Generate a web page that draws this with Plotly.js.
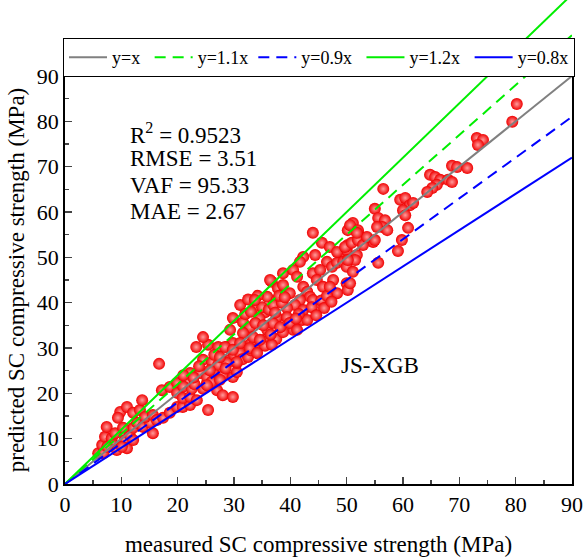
<!DOCTYPE html>
<html>
<head>
<meta charset="utf-8">
<script src="https://cdn.plot.ly/plotly-3.0.1.min.js"></script>
<style>html,body{margin:0;padding:0;background:#fff;}#chart{width:584px;height:559px;}</style>
</head>
<body>
<div id="chart"></div>
<script>
// measured vs predicted SC compressive strength (MPa)
const measured = [
 5.9,6.6,6.8,7.1,7.4,8.3,8.6,9.2,10.6,11.5,12.1,13.3,15.6,11.0,7.5,8.9,10.3,12.8,13.8,15.1,12.1,10.1,
 9.8,9.4,11.0,12.1,13.3,14.2,15.6,16.3,17.4,18.6,19.9,20.9,22.2,13.7,16.7,17.2,18.6,19.9,21.7,22.2,
 19.9,20.9,22.2,23.4,25.2,27.0,28.0,29.8,25.4,24.0,25.2,26.3,28.0,29.8,30.5,24.5,26.1,27.2,29.3,30.5,
 23.3,25.4,27.2,28.8,29.8,24.5,25.7,28.8,
 21.0,22.5,23.0,24.5,26.0,27.5,28.5,30.0,31.0,31.5,32.5,33.0,26.5,27.5,22.8,23.8,21.0,34.0,35.5,33.0,37.5,36.0,38.5,
 44.0,45.6,47.0,48.8,50.0,50.2,44.4,46.5,47.4,48.3,49.4,50.0,42.3,41.7,
 38.7,40.5,41.2,44.0,45.3,44.7,45.8,47.6,48.3,50.0,50.2,
 36.7,37.8,38.7,39.9,42.3,43.0,43.5,41.7,40.8,39.4,44.0,44.7,42.1,40.5,38.7,36.7,
 31.1,33.4,34.1,35.9,35.5,37.6,37.6,39.4,39.9,42.3,43.0,
 29.8,31.6,32.8,29.3,31.6,33.4,34.6,35.9,36.9,38.2,
 28.4,29.8,31.1,32.8,34.1,30.5,25.2,
 41.5,43.8,45.5,46.5,46.0,47.3,44.6,41.0,
 32.0,33.0,34.5,35.0,36.2,37.0,38.5,33.8,35.2,36.5,37.3,34.2,32.5,38.0,39.0,36.4,33.7,41.2,
 73.1,74.2,73.3,68.7,69.6,71.4,64.8,65.7,66.6,68.0,68.7,66.0,65.2,64.3,56.5,
 59.5,60.4,61.2,60.0,60.4,61.8,
 55.0,55.6,56.8,56.3,55.4,57.2,54.7,53.3,52.0,51.1,50.2,60.9,59.8,59.1,55.6,51.1,50.6,47.0,
 48.3,49.7,50.9,52.0,51.8,52.9,53.6,55.0,51.5,50.2,50.6,52.0,51.8,
 79.4,80.2
];
const predicted = [
 6.8,8.6,6.8,10.4,12.6,10.1,8.6,7.5,9.7,10.8,12.4,13.5,11.2,7.9,8.2,11.2,12.4,13.5,12.6,13.5,9.7,8.2,
 15.9,14.6,17.0,15.7,16.3,14.8,15.2,14.1,14.6,15.7,17.0,17.0,17.4,18.5,26.5,20.7,21.4,22.3,22.5,24.5,
 20.1,19.0,19.2,18.5,22.3,20.7,19.6,19.2,16.3,24.5,23.6,24.7,24.0,23.6,24.7,27.4,26.9,26.3,27.4,26.7,
 30.2,30.7,30.2,30.2,31.1,32.4,25.1,26.7,
 21.5,21.0,22.0,21.0,22.5,23.0,25.5,28.5,29.0,27.5,28.0,31.0,28.5,28.0,23.5,26.0,24.0,29.5,30.5,29.5,32.0,32.5,36.0,
 55.4,53.2,52.3,51.0,51.6,52.7,50.5,49.0,47.9,48.8,49.0,47.9,50.1,49.0,
 46.5,47.2,45.7,46.5,47.2,45.0,43.5,45.0,42.1,44.3,42.8,
 44.6,43.2,43.9,42.1,43.5,42.4,41.3,40.6,39.5,38.8,40.6,38.8,36.2,34.0,33.5,30.7,
 39.5,40.6,38.8,41.3,37.9,40.6,36.8,36.8,35.5,38.4,36.2,
 36.6,35.7,34.6,34.0,33.3,32.4,31.8,34.0,35.5,34.6,
 30.2,29.6,31.1,30.0,28.9,26.9,21.8,
 37.5,39.0,40.5,41.5,38.8,40.2,37.2,36.5,
 37.5,38.0,36.5,39.0,38.5,39.5,40.0,35.5,35.0,33.0,37.8,41.5,40.7,41.5,41.2,45.0,40.6,34.0,
 76.3,75.9,74.8,70.2,69.9,69.7,68.2,67.7,67.1,67.1,66.6,66.0,65.3,64.4,65.1,
 62.7,63.1,61.5,60.4,59.3,62.0,
 60.7,58.7,58.2,56.7,56.7,56.0,53.4,54.3,55.6,57.6,56.0,56.5,53.8,51.4,48.8,46.8,44.3,43.5,
 51.2,52.3,53.2,53.8,50.5,52.7,54.5,53.8,49.4,49.4,57.1,56.0,55.4,
 79.9,83.8
];
// reference lines y = k x
const lineNames = ['y=x\u00a0','y=1.1x','y=0.9x\u00a0','y=1.2x\u00a0','y=0.8x'];
const lineSlopes = [1, 1.1, 0.9, 1.2, 0.8];
const lineColors = ['#808080','#00ee00','#0000ff','#00ee00','#0000ff'];
const lineDashes = ['solid','11px,7px','11px,7px','solid','solid'];
const lineX = [0, 90];

const serif = "'Liberation Serif', 'Times New Roman', Times, serif";
const traces = [];
traces.push({
  type:'scatter', mode:'markers', x: measured, y: predicted, xaxis:'x', yaxis:'y',
  showlegend:false, hoverinfo:'skip',
  marker:{size:12, color:'#f00000', line:{width:0},
          gradient:{type:'radial', color:'#ff9c9c'}}
});
for (let i=0;i<lineNames.length;i++){
  traces.push({
    type:'scatter', mode:'lines', name: lineNames[i],
    x: lineX, y: lineX.map(v=>v*lineSlopes[i]), xaxis:'x', yaxis:'y2',
    line:{color: lineColors[i], width:2, dash: lineDashes[i]}, hoverinfo:'skip'
  });
}
const H = 484, plotH = 408, L = 63, W = 521;
const px = v => (v - L) / W;
const annFont = {family:serif, size:23, color:'#000'};
const layout = {
  width:584, height:559,
  margin:{l:L, r:0, t:0, b:75},
  paper_bgcolor:'#fff', plot_bgcolor:'rgba(0,0,0,0)',
  font:{family:serif, color:'#000', size:22},
  showlegend:true,
  legend:{orientation:'h', x:0, xanchor:'left', y:(H-38)/H, yanchor:'top',
          bgcolor:'#fff', bordercolor:'#000', borderwidth:1,
          font:{family:serif, size:18}, tracegroupgap:0, itemwidth:38},
  xaxis:{domain:[px(65), px(572)], range:[0,90], dtick:10, tick0:0, ticks:'inside', ticklen:7, tickwidth:1.5,
         showline:true, linecolor:'#000', linewidth:1.8, mirror:true, showgrid:false, zeroline:false,
         minor:{dtick:5, ticks:'inside', ticklen:4, tickwidth:1.5, showgrid:false},
         tickfont:{family:serif,size:22},
         title:{text:'measured SC compressive strength (MPa)', font:{family:serif,size:23}, standoff:20},
         anchor:'y', fixedrange:true},
  yaxis:{domain:[0, plotH/H], range:[0,90], dtick:10, tick0:0, ticks:'inside', ticklen:7, tickwidth:1.5,
         showline:true, linecolor:'#000', linewidth:1.8, mirror:true, showgrid:false, zeroline:false,
         minor:{dtick:5, ticks:'inside', ticklen:4, tickwidth:1.5, showgrid:false},
         tickfont:{family:serif,size:22},
         title:{text:'predicted SC compressive strength (MPa)', font:{family:serif,size:23}, standoff:6},
         anchor:'x', fixedrange:true},
  yaxis2:{domain:[0,1], range:[0, 90*H/plotH], visible:false, anchor:'x', fixedrange:true},
  annotations:[
    {text:'R<sup>2</sup> = 0.9523', xref:'paper', yref:'paper', x:px(128), y:(H-133)/H, xanchor:'left', yanchor:'middle', showarrow:false, font:annFont},
    {text:'RMSE = 3.51', xref:'paper', yref:'paper', x:px(128), y:(H-159)/H, xanchor:'left', yanchor:'middle', showarrow:false, font:annFont},
    {text:'VAF = 95.33', xref:'paper', yref:'paper', x:px(128), y:(H-185)/H, xanchor:'left', yanchor:'middle', showarrow:false, font:annFont},
    {text:'MAE = 2.67', xref:'paper', yref:'paper', x:px(128), y:(H-211)/H, xanchor:'left', yanchor:'middle', showarrow:false, font:annFont},
    {text:'JS-XGB', xref:'paper', yref:'paper', x:px(380), y:(H-365)/H, xanchor:'center', yanchor:'middle', showarrow:false, font:annFont}
  ]
};
Plotly.newPlot('chart', traces, layout, {staticPlot:true, displayModeBar:false});
</script>
</body>
</html>
